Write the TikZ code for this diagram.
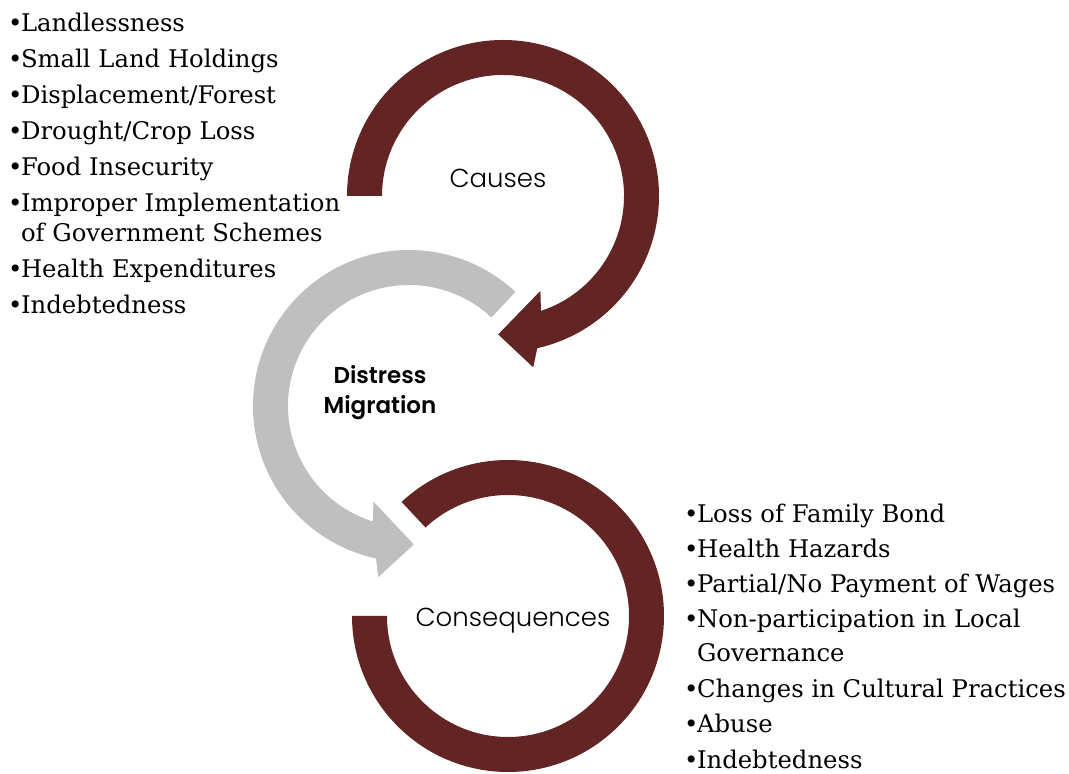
\documentclass[tikz,border=0pt]{standalone}
\usepackage{fontspec}
\setmainfont{DejaVu Serif}
\newfontfamily\gothic{Poppins}[UprightFont=* Light]
\definecolor{maroon}{RGB}{99,36,36}
\definecolor{ringgray}{RGB}{191,191,191}
\newcommand{\listfont}{\fontsize{24.3}{28}\selectfont}
\newcommand{\bul}{\textbullet\kern-1.5pt}

\begin{document}
\begin{tikzpicture}[x=1pt,y=1pt,
  lst/.style={anchor=base west,inner sep=0pt,font=\listfont},
  lbl/.style={font=\gothic\fontsize{26}{30}\selectfont},
  hub/.style={font=\gothic\bfseries\fontsize{23}{30}\selectfont,align=center}]

\useasboundingbox (0,0) rectangle (1069,774);

\coordinate (T) at (503,578);
\coordinate (M) at (409,368);
\coordinate (B) at (508,158);

\fill[maroon,shift={(T)}] (180:156) arc[start angle=180,end angle=-77.3,radius=156] -- (-80:174) -- (-92:138.5) -- (-68.5:102) -- (-71.7:121) arc[start angle=-71.7,end angle=180,radius=121] -- cycle;
\fill[ringgray,shift={(M)}] (47:156) arc[start angle=47,end angle=257.8,radius=156] -- (259.8:174) -- (272:138.5) -- (249.6:102) -- (252.6:121) arc[start angle=252.6,end angle=47,radius=121] -- cycle;
\fill[maroon,shift={(B)}] (133:156) arc[start angle=133,end angle=-180,radius=156] -- (180:121) arc[start angle=-180,end angle=133,radius=121] -- cycle;

\node (causes) at (498,596) [lbl] {Causes};
\node (hub) at (380,381) [hub] {Distress\\Migration};
\node (conseq) at (513,153) [lbl] {Consequences};

\node (c1) at (8,742) [lst] {\bul Landlessness};
\node (c2) at (8,706) [lst] {\bul Small Land Holdings};
\node (c3) at (8,670) [lst] {\bul Displacement/Forest};
\node (c4) at (8,634) [lst] {\bul Drought/Crop Loss};
\node (c5) at (8,598) [lst] {\bul Food Insecurity};
\node (c6) at (8,562) [lst] {\bul Improper Implementation};
\node (c6b) at (8,532) [lst] {\phantom{\bul}of Government Schemes};
\node (c7) at (8,496) [lst] {\bul Health Expenditures};
\node (c8) at (8,460) [lst] {\bul Indebtedness};

\node (q1) at (684,251) [lst] {\bul Loss of Family Bond};
\node (q2) at (684,216) [lst] {\bul Health Hazards};
\node (q3) at (684,181) [lst] {\bul Partial/No Payment of Wages};
\node (q4) at (684,146) [lst] {\bul Non-participation in Local};
\node (q4b) at (684,112) [lst] {\phantom{\bul}Governance};
\node (q5) at (684,76) [lst] {\bul Changes in Cultural Practices};
\node (q6) at (684,41) [lst] {\bul Abuse};
\node (q7) at (684,5) [lst] {\bul Indebtedness};
\end{tikzpicture}
\end{document}
